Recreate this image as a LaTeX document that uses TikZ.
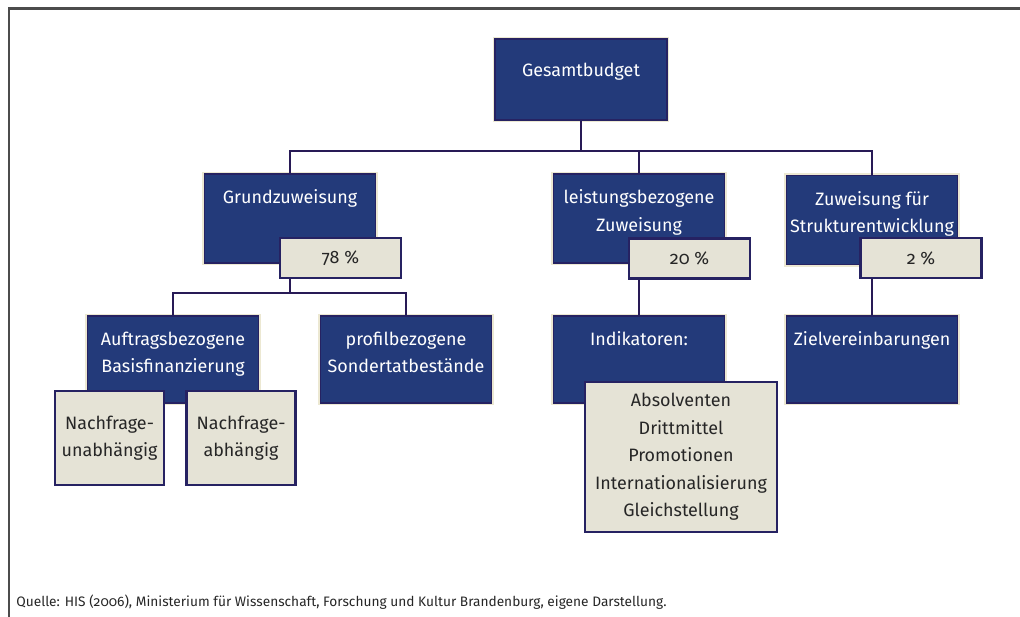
\documentclass[tikz,border=0pt]{standalone}
\usepackage{fontspec}
\setmainfont{Fira Sans}[Numbers=OldStyle]
\usepackage{tikz}
\definecolor{boxblue}{RGB}{35,58,122}
\definecolor{boxline}{RGB}{38,34,98}
\definecolor{linkline}{RGB}{40,26,86}
\definecolor{cream}{RGB}{236,232,210}
\definecolor{pale}{RGB}{229,227,214}
\newcommand{\boxfont}{\fontsize{10.2}{15.7}\selectfont}
\tikzset{
    box/.style={rectangle, fill=boxblue, draw=boxline, line width=0.6pt,
        preaction={draw=cream, line width=2.6pt},
        minimum width=3.42cm, minimum height=1.78cm}, % the dark blue boxes
    toptext/.style={anchor=north, yshift=-0.2cm, align=center, text=white, font=\boxfont}, % white text at the top of a box
    title/.style={label={[toptext]north:#1}}, % puts the text into the box
    share/.style={rectangle, fill=pale, draw=boxline, line width=1.3pt, align=center,
        minimum width=2.42cm, minimum height=0.8cm, text=black!85, font=\boxfont}, % the light boxes
    link/.style={draw=linkline, line width=1.4pt}, % lines between the boxes
    caption/.style={font=\fontsize{7.8}{9}\selectfont, text=black!85, inner sep=0pt}, % source line
}
\begin{document}
\begin{tikzpicture}[x=0.02cm, y=-0.02cm
                  ]
                  \useasboundingbox (0,0) rectangle (1020,617);
                  \draw[black!70, line width=1.2pt] (1020,8.5) -- (9,8.5) -- (9,617);
                  \node[box, minimum width=3.44cm, minimum height=1.62cm,
                      label={[toptext, yshift=-0.16cm]north:Gesamtbudget}] (gb) at (581,79.5) {};
                  \node[box, title={Grundzuweisung}] (gz) at (290,218.5) {};
                  \node[box, title={leistungsbezogene\\Zuweisung}] (lz) at (639,218.5) {};
                  \node[box, title={Zuweisung für\\Strukturentwicklung}] (sz) at (872,220) {};
                  \node[share] (p78) at (340.5,258) {78 \%};
                  \node[share] (p20) at (689.5,258.5) {20 \%};
                  \node[share] (p2) at (921,258) {2 \%};
                  \node[box, minimum height=1.74cm, title={Auftragsbezogene\\Basisfinanzierung}] (ab) at (173,359.5) {};
                  \node[box, minimum height=1.74cm, title={profilbezogene\\Sondertatbestände}] (pb) at (406,359.5) {};
                  \node[box, minimum height=1.74cm, title={Indikatoren:}] (ik) at (639,359.5) {};
                  \node[box, minimum height=1.74cm, title={Zielvereinbarungen}] (zv) at (872,359.5) {};
                  \node[share, minimum width=2.18cm, minimum height=1.88cm] (nu) at (109.5,438) {Nachfrage-\\unabhängig};
                  \node[share, minimum width=2.18cm, minimum height=1.88cm] (na) at (241,438) {Nachfrage-\\abhängig};
                  \node[share, minimum width=3.84cm, minimum height=3cm] (ak) at (681,457)
                      {Absolventen\\Drittmittel\\Promotionen\\Internationalisierung\\Gleichstellung};
                  \coordinate (bus1) at (581,151);
                  \coordinate (bus2) at (290,293);
                  \draw[link] (gb) -- (bus1);
                  \draw[link] (gz) |- (bus1) -| (sz);
                  \draw[link] (lz) -- (lz |- bus1);
                  \draw[link] (p78.south -| gz) -- (bus2);
                  \draw[link] (ab) |- (bus2) -| (pb);
                  \draw[link] (p20.south -| ik) -- (ik);
                  \draw[link] (p2.south -| zv) -- (zv);
                  \node[caption, anchor=base west] (src) at (16,606)
                      {Quelle: HIS (2006), Ministerium für Wissenschaft, Forschung und Kultur Brandenburg, eigene Darstellung.};
              \end{tikzpicture}
\end{document}
